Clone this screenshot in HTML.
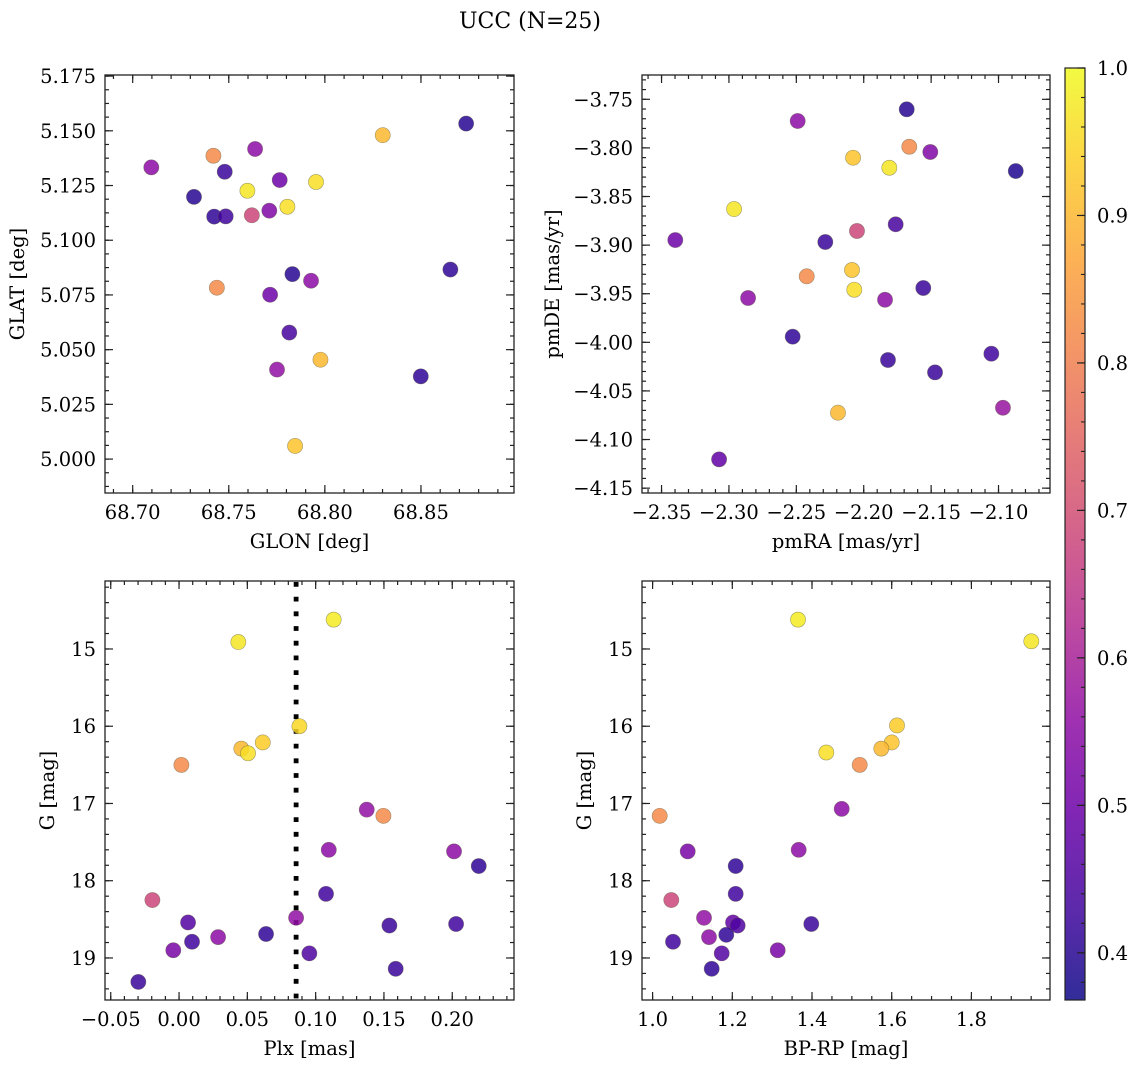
<!DOCTYPE html>
<html><head><meta charset="utf-8"><title>UCC (N=25)</title>
<style>
html,body{margin:0;padding:0;background:#fff;}
svg{display:block;font-family:"DejaVu Serif","Liberation Serif",serif;}
</style></head>
<body>
<svg id="fig" width="1136" height="1068" viewBox="0 0 1136 1068" xmlns="http://www.w3.org/2000/svg">
<defs>
<linearGradient id="plasma" x1="0" y1="1" x2="0" y2="0">
<stop offset="0" stop-color="#0d0887"/><stop offset="0.1" stop-color="#41049d"/><stop offset="0.2" stop-color="#6a00a8"/>
<stop offset="0.3" stop-color="#8f0da4"/><stop offset="0.4" stop-color="#b12a90"/><stop offset="0.5" stop-color="#cc4778"/>
<stop offset="0.6" stop-color="#e16462"/><stop offset="0.7" stop-color="#f2844b"/><stop offset="0.8" stop-color="#fca636"/>
<stop offset="0.9" stop-color="#fcce25"/><stop offset="1" stop-color="#f0f921"/>
</linearGradient>
</defs>
<text x="530" y="28" font-size="22" text-anchor="middle">UCC (N=25)</text>
</svg>
<script>
// ---- data (top level) ----
const tlGlon=[68.7097,68.7420,68.7637,68.8301,68.8735,68.7479,68.7319,68.7597,68.7765,68.7954,68.7424,68.7484,68.7620,68.7711,68.7805,68.7831,68.8653,68.7928,68.7438,68.7715,68.7815,68.7977,68.7751,68.8499,68.7845];
const tlGlat=[5.1333,5.1386,5.1417,5.1480,5.1533,5.1313,5.1198,5.1226,5.1275,5.1266,5.1108,5.1109,5.1114,5.1135,5.1153,5.0845,5.0866,5.0815,5.0783,5.0751,5.0578,5.0454,5.0409,5.0378,5.0060];
const tlProb=[0.55,0.82,0.55,0.90,0.40,0.42,0.40,0.97,0.50,0.96,0.41,0.43,0.68,0.53,0.96,0.40,0.41,0.55,0.82,0.50,0.44,0.90,0.56,0.41,0.92];

const trPmra=[-2.1681,-2.2490,-2.1662,-2.1506,-2.2079,-2.1810,-2.0872,-2.2962,-2.3398,-2.2285,-2.2050,-2.1763,-2.2423,-2.2087,-2.2070,-2.2858,-2.1842,-2.1558,-2.2527,-2.1820,-2.1053,-2.1471,-2.0967,-2.2191,-2.3073];
const trPmde=[-3.7603,-3.7723,-3.7988,-3.8042,-3.8101,-3.8204,-3.8238,-3.8629,-3.8948,-3.8968,-3.8855,-3.8786,-3.9321,-3.9256,-3.9459,-3.9544,-3.9562,-3.9441,-3.9942,-4.0182,-4.0117,-4.0309,-4.0673,-4.0724,-4.1204];
const trProb=[0.40,0.55,0.82,0.53,0.92,0.97,0.39,0.97,0.50,0.42,0.68,0.44,0.82,0.92,0.96,0.55,0.55,0.42,0.41,0.42,0.43,0.42,0.57,0.90,0.48];

const blPlx=[-0.0298,-0.0195,-0.0042,0.0066,0.0095,0.0286,0.0637,0.0857,0.0954,0.1076,0.1540,0.1586,0.2028,0.2194,0.2013,0.1096,0.1374,0.1496,0.0017,0.0456,0.0505,0.0613,0.0881,0.0434,0.1132];
const blG=[19.31,18.25,18.90,18.54,18.79,18.73,18.69,18.48,18.94,18.17,18.58,19.14,18.56,17.81,17.62,17.60,17.08,17.16,16.50,16.29,16.35,16.21,16.00,14.91,14.62];
const blProb=[0.42,0.68,0.52,0.46,0.43,0.55,0.41,0.56,0.45,0.43,0.42,0.42,0.43,0.41,0.55,0.55,0.56,0.82,0.82,0.90,0.96,0.93,0.95,0.97,0.98];
const plxLine=[0.0857];

const brBprp=[1.3649,1.9503,1.6133,1.6000,1.5739,1.4359,1.5197,1.0178,1.4745,1.0881,1.3666,1.2085,1.2085,1.0469,1.1290,1.2018,1.2135,1.3982,1.1415,1.1849,1.0512,1.3139,1.1734,1.1483];
const brG=[14.62,14.90,15.99,16.21,16.29,16.34,16.50,17.16,17.07,17.62,17.60,17.81,18.17,18.25,18.48,18.54,18.58,18.56,18.73,18.70,18.79,18.90,18.94,19.14];
const brProb=[0.98,0.97,0.93,0.92,0.90,0.96,0.82,0.82,0.55,0.52,0.55,0.41,0.43,0.68,0.56,0.48,0.45,0.42,0.55,0.41,0.43,0.52,0.46,0.41];

const cbTicks=[0.4,0.5,0.6,0.7,0.8,0.9,1.0];
const VMIN=0.368, VMAX=1.0;

// ---- helpers ----
const FS=19.5;
const NS='http://www.w3.org/2000/svg';
const svg=document.getElementById('fig');
function mk(tag,attrs,parent){const e=document.createElementNS(NS,tag);for(const k in attrs)e.setAttribute(k,attrs[k]);(parent||svg).appendChild(e);return e;}
const stops=[[13,8,135],[65,4,157],[106,0,168],[143,13,164],[177,42,144],[204,71,120],[225,100,98],[242,132,75],[252,166,54],[252,206,37],[240,249,33]];
function plasma(p){let t=(p-VMIN)/(VMAX-VMIN);t=Math.max(0,Math.min(1,t));const f=t*10;const i=Math.min(9,Math.floor(f));const r=f-i;const a=stops[i],b=stops[i+1];
return 'rgb('+[0,1,2].map(k=>Math.round(a[k]+(b[k]-a[k])*r)).join(',')+')';}
function fmt(v,d){const s=Math.abs(v).toFixed(d);return (v< -1e-9?'\u2212':'')+s;}

function panel(name,box,dom,xt,yt,xminor,yminor,xd,yd,invert,xlabel,ylabel,ylabX){
  const g=mk('g',{});
  
  
  const sx=v=>box.x0+(v-dom.x0)/(dom.x1-dom.x0)*(box.x1-box.x0);
  const sy=invert?(v=>box.y0+(v-dom.y0)/(dom.y1-dom.y0)*(box.y1-box.y0)):(v=>box.y1-(v-dom.y0)/(dom.y1-dom.y0)*(box.y1-box.y0));
  const tg=mk('g',{stroke:'#222','stroke-width':1.2},g);
  for(let v=Math.ceil(dom.x0/xminor)*xminor;v<=dom.x1;v+=xminor){const x=sx(v);
    mk('line',{x1:x,x2:x,y1:box.y1,y2:box.y1-4},tg);mk('line',{x1:x,x2:x,y1:box.y0,y2:box.y0+4},tg);}
  const ylo=Math.min(dom.y0,dom.y1),yhi=Math.max(dom.y0,dom.y1);
  for(let v=Math.ceil(ylo/yminor)*yminor;v<=yhi;v+=yminor){const y=sy(v);
    mk('line',{x1:box.x0,x2:box.x0+4,y1:y,y2:y},tg);mk('line',{x1:box.x1,x2:box.x1-4,y1:y,y2:y},tg);}
  xt.forEach(v=>{const x=sx(v);
    mk('line',{x1:x,x2:x,y1:box.y1,y2:box.y1-8},tg);mk('line',{x1:x,x2:x,y1:box.y0,y2:box.y0+8},tg);
    const t=mk('text',{x:x,y:box.y1+26,'font-size':FS,'text-anchor':'middle'},g);t.textContent=fmt(v,xd);
    
    });
  yt.forEach(v=>{const y=sy(v);
    mk('line',{x1:box.x0,x2:box.x0+8,y1:y,y2:y},tg);mk('line',{x1:box.x1,x2:box.x1-8,y1:y,y2:y},tg);
    const t=mk('text',{x:box.x0-9,y:y+7,'font-size':FS,'text-anchor':'end'},g);t.textContent=fmt(v,yd);
    
    });
  mk('rect',{x:box.x0,y:box.y0,width:box.x1-box.x0,height:box.y1-box.y0,fill:'none',stroke:'#222','stroke-width':1.3},g);
  const xl=mk('text',{x:(box.x0+box.x1)/2,y:box.y1+55,'font-size':FS,'text-anchor':'middle'},g);xl.textContent=xlabel;
  
  
  const cy=(box.y0+box.y1)/2;
  const yl=mk('text',{x:ylabX,y:cy,'font-size':FS,'text-anchor':'middle',transform:'rotate(-90 '+ylabX+' '+cy+')'},g);yl.textContent=ylabel;
  
  
  return {g,sx,sy};
}
function scatter(p,xs,ys,ps){
  const pg=mk('g',{},p.g);
  
  
  xs.forEach((v,i)=>{
    const c=mk('circle',{cx:p.sx(v),cy:p.sy(ys[i]),r:7.6,fill:plasma(ps[i]),'fill-opacity':0.85,stroke:'rgba(90,90,60,0.55)','stroke-width':0.6},pg);
    
    
  });
}
function range(a,b,s){const r=[];for(let v=a;v<=b+1e-9;v+=s)r.push(+v.toFixed(6));return r;}

const tl=panel('glon-glat-panel',{x0:105,x1:514,y0:75,y1:493},{x0:68.6856,x1:68.8984,y0:4.9845,y1:5.1755},
  range(68.70,68.85,0.05),range(5.0,5.175,0.025),0.01,0.00625,2,3,false,'GLON [deg]','GLAT [deg]',24);
scatter(tl,tlGlon,tlGlat,tlProb);

const tr=panel('pm-panel',{x0:642,x1:1050,y0:75,y1:493},{x0:-2.3645,x1:-2.0618,y0:-4.155,y1:-3.725},
  range(-2.35,-2.10,0.05),range(-4.15,-3.75,0.05),0.01,0.01,2,2,false,'pmRA [mas/yr]','pmDE [mas/yr]',559);
scatter(tr,trPmra,trPmde,trProb);

const bl=panel('plx-g-panel',{x0:105,x1:514,y0:581,y1:1000},{x0:-0.0542,x1:0.2452,y0:14.12,y1:19.544},
  range(-0.05,0.20,0.05),range(15,19,1),0.01,0.2,2,0,true,'Plx [mas]','G [mag]',54);
plxLine.forEach(v=>{const x=bl.sx(v);
  const l=mk('line',{x1:x,x2:x,y1:582,y2:1000,stroke:'#000','stroke-width':4.8,'stroke-dasharray':'4.8 9.9'},bl.g);
  
  });
scatter(bl,blPlx,blG,blProb);

const br=panel('color-g-panel',{x0:642,x1:1050,y0:581,y1:1000},{x0:0.9734,x1:1.9972,y0:14.12,y1:19.544},
  range(1.0,1.8,0.2),range(15,19,1),0.05,0.2,1,0,true,'BP-RP [mag]','G [mag]',591);
scatter(br,brBprp,brG,brProb);

const cb=mk('g',{});


const cbx0=1065,cbx1=1085,cby0=68,cby1=1000;
mk('rect',{x:cbx0,y:cby0,width:cbx1-cbx0,height:cby1-cby0,fill:'url(#plasma)','fill-opacity':0.85},cb);
mk('rect',{x:cbx0,y:cby0,width:cbx1-cbx0,height:cby1-cby0,fill:'none',stroke:'#222','stroke-width':1.2},cb);
const cy=v=>cby1-(v-VMIN)/(VMAX-VMIN)*(cby1-cby0);
for(let v=0.38;v<=1.0001;v+=0.02){const y=cy(v);mk('line',{x1:cbx1,x2:cbx1-4,y1:y,y2:y,stroke:'#222','stroke-width':1.1},cb);}
cbTicks.forEach(v=>{const y=cy(v);
  mk('line',{x1:cbx1,x2:cbx1-8,y1:y,y2:y,stroke:'#222','stroke-width':1.2},cb);
  const t=mk('text',{x:1097,y:y+7,'font-size':FS},cb);t.textContent=v.toFixed(1);
  
  });
</script>
</body></html>
